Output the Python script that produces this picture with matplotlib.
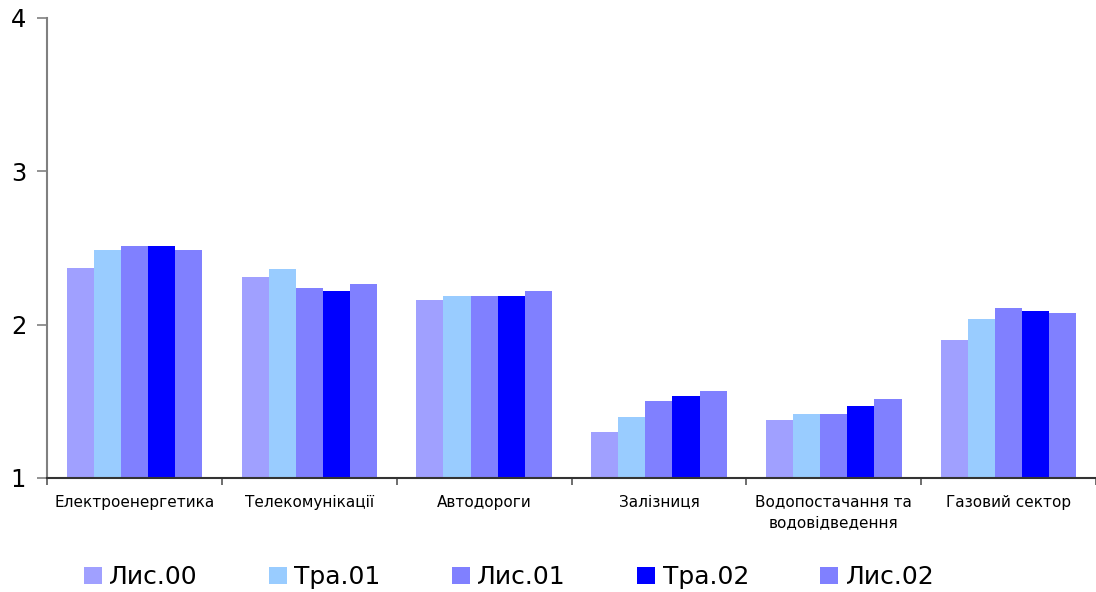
import matplotlib
matplotlib.use("Agg")
import matplotlib.pyplot as plt
from matplotlib.patches import Patch
import numpy as np

categories = ["Електроенергетика", "Телекомунікації", "Автодороги",
              "Залізниця", "Водопостачання та\nводовідведення", "Газовий сектор"]
series_names = ["Лис.00", "Тра.01", "Лис.01", "Тра.02", "Лис.02"]
lis00 = [2.37, 2.31, 2.16, 1.30, 1.38, 1.90]
tra01 = [2.49, 2.36, 2.19, 1.40, 1.42, 2.04]
lis01 = [2.51, 2.24, 2.19, 1.50, 1.42, 2.11]
tra02 = [2.51, 2.22, 2.19, 1.535, 1.47, 2.09]
lis02 = [2.49, 2.265, 2.22, 1.57, 1.515, 2.075]
series_values = [lis00, tra01, lis01, tra02, lis02]
colors = ["#A0A0FF", "#99CCFF", "#8080FF", "#0000FF", "#8080FF"]
y_ticks = [1, 2, 3, 4]

plt.rcParams['font.family'] = ['DejaVu Sans']

fig = plt.figure(figsize=(10.96, 5.92), dpi=100)
ax = fig.add_axes([0.0429, 0.1926, 0.9571, 0.777])

n = len(series_names)
x = np.arange(len(categories))
bw = 0.155
for i, (vals, col) in enumerate(zip(series_values, colors)):
    offs = (i - (n - 1) / 2) * bw
    ax.bar(x + offs, np.array(vals) - 1, bottom=1, width=bw, color=col,
           edgecolor='none', linewidth=0, zorder=2)

ax.set_xlim(-0.5, len(categories) - 0.5)
ax.set_ylim(1, 4)
ax.set_yticks(y_ticks)
ax.set_yticklabels([str(t) for t in y_ticks], fontsize=17.5)
ax.tick_params(axis='y', direction='out', length=7, width=1.2, color='#808080', pad=8)

ax.set_xticks(x)
ax.set_xticklabels(categories, fontsize=11, linespacing=1.45)
ax.tick_params(axis='x', which='major', length=0, pad=12)
ax.set_xticks(np.arange(-0.5, len(categories) + 0.5, 1), minor=True)
ax.tick_params(axis='x', which='minor', direction='out', length=5, width=1.2, color='#555555')

for s in ['top', 'right']:
    ax.spines[s].set_visible(False)
ax.spines['left'].set_color('#808080')
ax.spines['left'].set_linewidth(1.5)
ax.spines['bottom'].set_color('#333333')
ax.spines['bottom'].set_linewidth(1.5)

handles = [Patch(facecolor=c, edgecolor='none', label=l) for c, l in zip(colors, series_names)]
fig.legend(handles=handles, loc='center', bbox_to_anchor=(0.4645, 0.025), ncol=5,
           frameon=False, fontsize=18, handlelength=0.72, handleheight=0.72,
           handletextpad=0.3, columnspacing=2.85)

fig.savefig("out.png", dpi=100)
